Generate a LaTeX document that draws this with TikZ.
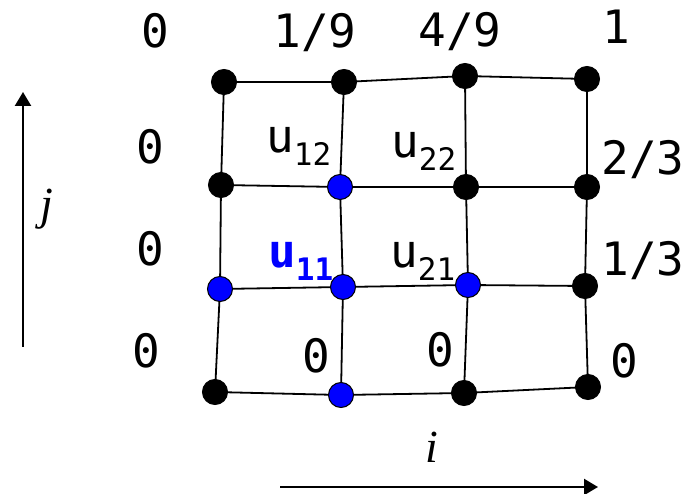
\documentclass[tikz,border=0pt]{standalone}
\usepackage{fontspec}
\setmainfont{Liberation Serif}
\setmonofont{DejaVu Sans Mono}
\usetikzlibrary{arrows.meta}
\tikzset{
  dotk/.style={circle,fill=black,draw=black,line width=1pt,minimum size=25pt,inner sep=0pt},
  dotb/.style={dotk,fill=blue},
  grid line/.style={line width=1.8pt,black},
  lbl/.style={font=\ttfamily\fontsize{46}{46}\selectfont,inner sep=0pt,anchor=base},
  ulbl/.style={font=\ttfamily\fontsize{46}{46}\selectfont,inner sep=0pt,anchor=base west},
  axis/.style={line width=2.4pt,-{Triangle[length=14pt,width=16pt]}},
  axlbl/.style={font=\itshape\fontsize{46}{46}\selectfont,inner sep=0pt,anchor=base}
}
\newcommand{\usub}[1]{u\raisebox{-13pt}{\fontsize{31}{31}\selectfont #1}}
\begin{document}
\begin{tikzpicture}[x=1pt,y=-1pt]
\useasboundingbox (0,0) rectangle (697,494);
% coordinates of grid points (column, row from bottom)
\coordinate (c00) at (215,392); \coordinate (c10) at (341,395); \coordinate (c20) at (464,393); \coordinate (c30) at (588,387);
\coordinate (c01) at (220,289); \coordinate (c11) at (343,287); \coordinate (c21) at (468,285); \coordinate (c31) at (585,286);
\coordinate (c02) at (221,185); \coordinate (c12) at (340,187); \coordinate (c22) at (466,187); \coordinate (c32) at (587,187);
\coordinate (c03) at (224,82);  \coordinate (c13) at (344,82);  \coordinate (c23) at (465,76);  \coordinate (c33) at (587,79);
% grid lines
\foreach \r in {0,1,2,3}{
  \draw[grid line] (c0\r) -- (c1\r) -- (c2\r) -- (c3\r);
}
\foreach \c in {0,1,2,3}{
  \draw[grid line] (c\c0) -- (c\c1) -- (c\c2) -- (c\c3);
}
% dots
\node[dotk] (p00) at (c00) {};
\node[dotb] (p10) at (c10) {};
\node[dotk] (p20) at (c20) {};
\node[dotk] (p30) at (c30) {};
\node[dotb] (p01) at (c01) {};
\node[dotb] (p11) at (c11) {};
\node[dotb] (p21) at (c21) {};
\node[dotk] (p31) at (c31) {};
\node[dotk] (p02) at (c02) {};
\node[dotb] (p12) at (c12) {};
\node[dotk] (p22) at (c22) {};
\node[dotk] (p32) at (c32) {};
\node[dotk] (p03) at (c03) {};
\node[dotk] (p13) at (c13) {};
\node[dotk] (p23) at (c23) {};
\node[dotk] (p33) at (c33) {};
% boundary values
\node[lbl] (t0) at (155,48) {0};
\node[lbl] (t1) at (315,48) {1/9};
\node[lbl] (t2) at (460,47) {4/9};
\node[lbl] (t3) at (616,44) {1};
\node[lbl] (l2) at (150,164) {0};
\node[lbl] (l1) at (150,266) {0};
\node[lbl] (l0) at (146,368) {0};
\node[lbl] (r2) at (643,175) {2/3};
\node[lbl] (r1) at (643,276) {1/3};
\node[lbl] (r0) at (624,378) {0};
\node[lbl] (b1) at (316,373) {0};
\node[lbl] (b2) at (440,367) {0};
% unknowns
\node[ulbl] (u12) at (266,153) {\usub{12}};
\node[ulbl] (u22) at (391,158) {\usub{22}};
\node[ulbl,text=blue,font=\ttfamily\bfseries\fontsize{46}{46}\selectfont] (u11) at (268,268) {\usub{11}};
\node[ulbl] (u21) at (390,268) {\usub{21}};
% axes
\coordinate (ja) at (23,347); \coordinate (jb) at (23,92);
\draw[axis] (ja) -- (jb);
\node[axlbl] (jl) at (47,220) {j};
\coordinate (ia) at (280,487); \coordinate (ib) at (598,487);
\draw[axis] (ia) -- (ib);
\node[axlbl] (il) at (432,463) {i};
\end{tikzpicture}
\end{document}
